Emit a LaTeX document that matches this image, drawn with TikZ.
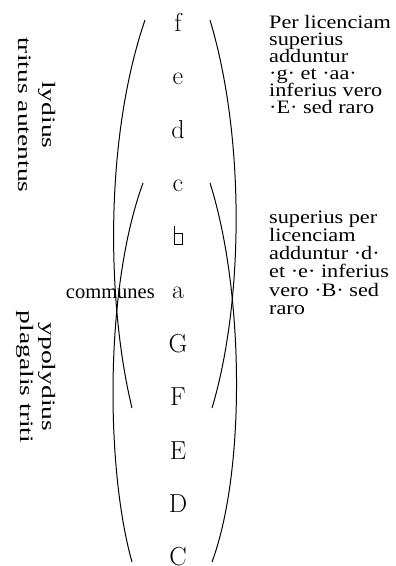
\documentclass[tikz,border=0pt]{standalone}
\usepackage{fontspec}
\usepackage{graphicx}
\setmainfont{Liberation Serif}
\newfontfamily\lmfont{Latin Modern Roman}
\lineskiplimit=-100pt
\newcommand{\gw}[1]{\scalebox{1.17}[1]{#1}}
\newcommand{\rw}[1]{\scalebox{1.45}[1]{#1}}
\begin{document}
\begin{tikzpicture}[x=1pt,y=-1pt,
  note/.style={font=\lmfont\fontsize{26}{26}\selectfont, anchor=base, inner sep=0pt},
  gloss/.style={font=\fontsize{19}{19}\selectfont, anchor=base west, inner sep=0pt},
  rottext/.style={font=\fontsize{19}{19}\selectfont, rotate=-90, anchor=base, inner sep=0pt},
  arcline/.style={line width=1pt, black}]
\path[use as bounding box] (0,0) rectangle (396,566);

% column of letters
\node[note] (nf) at (178,31) {f};
\node[note] (ne) at (178,84.5) {e};
\node[note] (nd) at (178,138) {d};
\node[note] (nc) at (178,191.5) {c};
\coordinate (nb) at (178,244);
\draw[line width=0.9pt] (174.5,226) -- (174.5,244) -- (182,244) -- (182,233) -- (174.5,233);
\node[note] (na) at (178,298.5) {a};
\node[note] (nG) at (178,352) {G};
\node[note] (nF) at (178,405.5) {F};
\node[note] (nE) at (178,459) {E};
\node[note] (nD) at (178,512.5) {D};
\node[note] (nC) at (178,565) {C};

% curves
\coordinate (a1) at (145,20);  \coordinate (a2) at (132,408);
\coordinate (b1) at (143,183); \coordinate (b2) at (132,562);
\coordinate (c1) at (210,20);  \coordinate (c2) at (212,408);
\coordinate (d1) at (210,183); \coordinate (d2) at (212,562);
\draw[arcline] (a1) .. controls (104,140) and (107,305) .. (a2);
\draw[arcline] (b1) .. controls (104,290) and (106,470) .. (b2);
\draw[arcline] (c1) .. controls (246,140) and (243,305) .. (c2);
\draw[arcline] (d1) .. controls (244,290) and (246,470) .. (d2);

% communes
\node[font=\fontsize{20.5}{20}\selectfont, anchor=base east, inner sep=0pt] (com) at (155,298.5) {communes};

% rotated labels
\node[rottext] (lyd) at (42,115) {\rw{lydius}};
\node[rottext] (trit) at (19,115) {\rw{tritus autentus}};
\node[rottext] (ypo) at (42,377) {\rw{ypolydius}};
\node[rottext] (plag) at (20,377) {\rw{plagalis triti}};

% right glosses
\node[gloss] (g1) at (269,28) {\gw{Per licenciam}};
\node[gloss] (g2) at (269,45) {\gw{superius}};
\node[gloss] (g3) at (269,62) {\gw{adduntur}};
\node[gloss] (g4) at (269,79) {\gw{·g· et ·aa·}};
\node[gloss] (g5) at (269,96) {\gw{inferius vero}};
\node[gloss] (g6) at (269,113) {\gw{·E· sed raro}};

\node[gloss] (h1) at (269,223) {\gw{superius per}};
\node[gloss] (h2) at (269,241) {\gw{licenciam}};
\node[gloss] (h3) at (269,259) {\gw{adduntur ·d·}};
\node[gloss] (h4) at (269,277.5) {\gw{et ·e· inferius}};
\node[gloss] (h5) at (269,296) {\gw{vero ·B· sed}};
\node[gloss] (h6) at (269,314.5) {\gw{raro}};
\end{tikzpicture}
\end{document}
